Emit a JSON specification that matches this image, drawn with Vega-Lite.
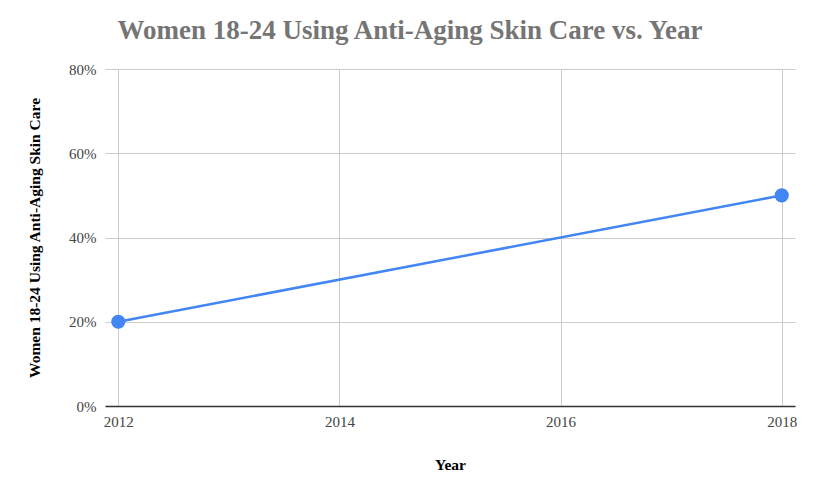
{
  "$schema": "https://vega.github.io/schema/vega-lite/v6.json",
  "width": 690,
  "height": 337,
  "autosize": {"type": "none"},
  "padding": {"left": 105, "top": 69, "right": 25, "bottom": 84},
  "background": "white",
  "title": {
    "text": "Women 18-24 Using Anti-Aging Skin Care vs. Year",
    "font": "Liberation Serif",
    "fontSize": 27,
    "fontWeight": "bold",
    "color": "#757575",
    "anchor": "middle",
    "dx": -40,
    "offset": 17
  },
  "data": {
    "values": [
      {"year": 2012, "share": 0.2},
      {"year": 2018, "share": 0.5}
    ]
  },
  "config": {
    "view": {"stroke": null},
    "axis": {
      "labelFont": "Liberation Serif",
      "titleFont": "Liberation Serif",
      "labelFontSize": 15,
      "titleFontSize": 15.5,
      "labelColor": "#444444",
      "titleColor": "#000000",
      "titleFontWeight": "bold",
      "gridColor": "#cccccc",
      "gridWidth": 1,
      "ticks": false
    }
  },
  "encoding": {
    "x": {
      "field": "year",
      "type": "quantitative",
      "scale": {"domain": [2011.88, 2018.12], "nice": false, "zero": false},
      "axis": {
        "values": [2012, 2014, 2016, 2018],
        "format": "d",
        "title": "Year",
        "domainColor": "#333333",
        "domainWidth": 1.5,
        "labelPadding": 8,
        "titlePadding": 28
      }
    },
    "y": {
      "field": "share",
      "type": "quantitative",
      "scale": {"domain": [0, 0.8], "nice": false},
      "axis": {
        "values": [0, 0.2, 0.4, 0.6, 0.8],
        "format": ".0%",
        "title": "Women 18-24 Using Anti-Aging Skin Care",
        "domain": false,
        "labelPadding": 9,
        "titlePadding": 26
      }
    }
  },
  "layer": [
    {"mark": {"type": "line", "color": "#4285F4", "strokeWidth": 2.5}},
    {"mark": {"type": "point", "filled": true, "color": "#4285F4", "size": 200, "opacity": 1}}
  ]
}
